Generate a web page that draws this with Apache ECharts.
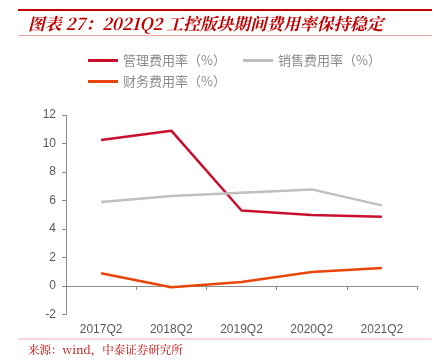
<!DOCTYPE html>
<html>
<head>
<meta charset="utf-8">
<script src="https://cdn.jsdelivr.net/npm/echarts@6/dist/echarts.min.js"></script>
<style>html,body{margin:0;padding:0;background:#fff;}#c{width:435px;height:361px;}</style>
</head>
<body>
<div id="c"></div>
<script>
var categories = ['2017Q2', '2018Q2', '2019Q2', '2020Q2', '2021Q2'];
var mgmtRate = [10.25, 10.9, 5.3, 4.98, 4.86];
var salesRate = [5.89, 6.32, 6.55, 6.78, 5.66];
var finRate = [0.89, -0.09, 0.28, 0.98, 1.26];
var yTicks = [-2, 0, 2, 4, 6, 8, 10, 12];
var names = ['管理费用率（%）', '销售费用率（%）', '财务费用率（%）'];

var chart = echarts.init(document.getElementById('c'));
var txtFont = '"Noto Sans CJK SC", "Noto Sans", sans-serif';
chart.setOption({
  animation: false,
  backgroundColor: '#fff',
  graphic: [
    {type: 'rect', shape: {x: 18, y: 9, width: 414, height: 2}, style: {fill: '#C00000'}},
    {type: 'text', left: 28, top: 15, style: {text: '图表 27：2021Q2 工控版块期间费用率保持稳定', fill: '#C00000', font: 'italic bold 16.7px "Noto Serif CJK SC", "Noto Sans CJK SC", serif'}},
    {type: 'rect', shape: {x: 18, y: 35, width: 414, height: 1}, style: {fill: '#E8A0A0'}},
    {type: 'rect', shape: {x: 18, y: 338.5, width: 414, height: 1}, style: {fill: '#F0B0B0'}},
    {type: 'text', left: 28, top: 344, style: {text: '来源：wind，中泰证券研究所', fill: '#C00000', font: '11.5px "Noto Serif CJK SC", "Noto Sans CJK SC", serif'}}
  ],
  legend: [
    {data: [names[0], names[1]], left: 83, top: 49, itemWidth: 30, itemHeight: 3, itemGap: 17, icon: 'rect',
     textStyle: {color: '#8c8c8c', fontSize: 13, fontFamily: txtFont}},
    {data: [names[2]], left: 83, top: 70, itemWidth: 30, itemHeight: 3, icon: 'rect',
     textStyle: {color: '#8c8c8c', fontSize: 13, fontFamily: txtFont}}
  ],
  grid: {left: 66, right: 18, top: 115, bottom: 46.5},
  xAxis: {
    type: 'category', data: categories, boundaryGap: true,
    axisLine: {onZero: true, lineStyle: {color: '#8c8c8c', width: 1}},
    axisTick: {show: true, length: 4, lineStyle: {color: '#8c8c8c'}},
    axisLabel: {color: '#595959', fontSize: 12, fontFamily: 'Arial, "Liberation Sans", sans-serif', margin: 9}
  },
  yAxis: {
    type: 'value', min: yTicks[0], max: yTicks[yTicks.length - 1], interval: 2,
    axisLine: {show: true, lineStyle: {color: '#8c8c8c', width: 1}},
    axisTick: {show: true, length: 4, lineStyle: {color: '#8c8c8c'}},
    splitLine: {show: false},
    axisLabel: {color: '#595959', fontSize: 12, fontFamily: 'Arial, "Liberation Sans", sans-serif', margin: 10}
  },
  series: [
    {name: names[0], type: 'line', data: mgmtRate, symbol: 'none', lineStyle: {color: '#C8102E', width: 2.5}, itemStyle: {color: '#C8102E'}},
    {name: names[1], type: 'line', data: salesRate, symbol: 'none', lineStyle: {color: '#BFBFBF', width: 2.5}, itemStyle: {color: '#BFBFBF'}},
    {name: names[2], type: 'line', data: finRate, symbol: 'none', lineStyle: {color: '#E8450A', width: 2.5}, itemStyle: {color: '#E8450A'}}
  ]
});
</script>
</body>
</html>
